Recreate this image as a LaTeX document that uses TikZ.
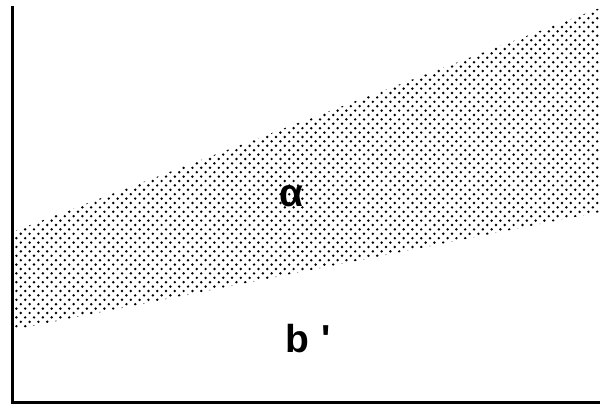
\documentclass[tikz,border=0pt]{standalone}
\usepackage{fontspec}
\setmainfont{Liberation Sans}
\begin{document}
\begin{tikzpicture}[x=1pt,y=-1pt,
  axis/.style={line width=3pt, line cap=butt},
  dotmark/.style={fill=black},
  bigtext/.style={inner sep=0pt, font=\fontsize{39}{39}\selectfont\bfseries}]
\useasboundingbox (0,0) rectangle (600,406);
% dotted band
\begin{scope}
\clip (12,232) -- (600,8) -- (600,212) -- (12,330) -- cycle;
\foreach \j in {0,...,75} {
  \pgfmathsetmacro\yy{5+4.4*\j}
  \pgfmathsetmacro\off{mod(\j,2)*4.4}
  \foreach \i in {0,...,68} { \fill[dotmark] (12+\off+8.8*\i, \yy) circle (1.35); }
}
\end{scope}
% axes
\coordinate (top) at (12,6);
\coordinate (origin) at (12,402);
\coordinate (right) at (600,402);
\draw[axis] (top) -- (origin) -- (right);
% labels
\node[bigtext, anchor=center] (alpha) at (291,196) {α};
\node[bigtext, anchor=base west] (b) at (285,352) {b\hspace{12pt}\textquotesingle};
\end{tikzpicture}
\end{document}
